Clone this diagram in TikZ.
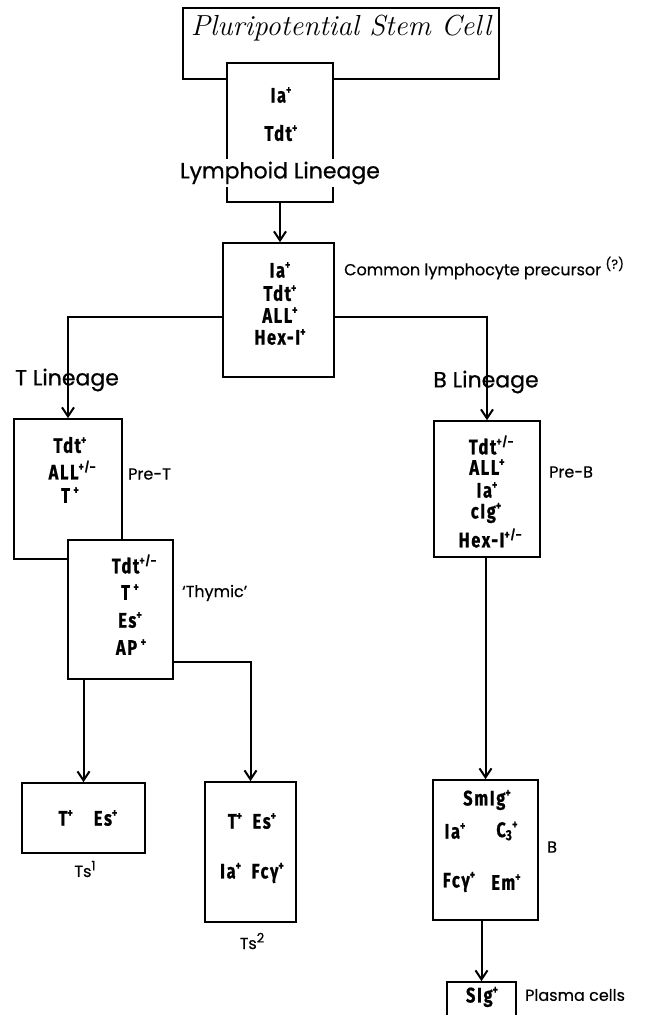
\documentclass[tikz,border=0pt]{standalone}
\usepackage{fontspec}
\usetikzlibrary{arrows.meta,positioning}
\newfontfamily\markfont[FakeStretch=0.78,LetterSpace=8,FakeBold=0.8]{Fira Sans}
\newfontfamily\labelfont[FakeBold=0.4]{Poppins}
\newfontfamily\biglabelfont[FakeBold=0.7]{Poppins}
\newcommand{\mrk}{\markfont\bfseries\fontsize{21}{24}\selectfont}
\newcommand{\sg}[1]{\raisebox{0.75ex}{\fontsize{13}{13}\selectfont #1}}

\begin{document}
\begin{tikzpicture}[x=1pt,y=-1pt,>={Straight Barb[length=9pt,width=12pt]}]
\tikzstyle{box}=[draw,line width=1.7pt,fill=white,inner sep=0pt]
\tikzstyle{conn}=[draw,->,line width=2pt]
\tikzstyle{m}=[font=\mrk,inner sep=1pt]
\tikzstyle{lab}=[font=\labelfont\fontsize{16}{19}\selectfont,anchor=west,inner sep=1pt]
\tikzstyle{big}=[font=\biglabelfont\fontsize{22}{25}\selectfont,inner sep=1pt]
\useasboundingbox (0,0) rectangle (652,1015);
% stem cell and lymphoid lineage
\node[box,minimum width=316pt,minimum height=71pt] (stem) at (341,43.5) {};
\node[font=\itshape\fontsize{29}{32}\selectfont,inner sep=0pt] (stemtxt) at (341,28) {Pluripotential Stem Cell};
\node[box,minimum width=106pt,minimum height=139pt] (lymph) at (280,132.5) {};
\node[m] (lyIa) at (281,95) {Ia\sg{+}};
\node[m] (lyTdt) at (281,133) {Tdt\sg{+}};
\node[big,fill=white,inner sep=3pt] (lylab) at (280,173) {Lymphoid Lineage};
% common precursor
\node[box,minimum width=111pt,minimum height=134pt] (common) at (278.5,310) {};
\node[m] (coIa) at (280,270) {Ia\sg{+}};
\node[m] (coTdt) at (280,293) {Tdt\sg{+}};
\node[m] (coALL) at (280,315) {ALL\sg{+}};
\node[m] (coHex) at (280,337) {Hex-I\sg{+}};
\node[lab] (colab) at (343,268) {Common lymphocyte precursor \sg{(?)}};
\path[conn] (lymph.south) -- (lymph.south |- common.north);
% T lineage
\node[box,minimum width=108pt,minimum height=140pt] (pret) at (68,489) {};
\node[m] (ptTdt) at (70,445) {Tdt\sg{+}};
\node[m] (ptALL) at (72,470) {ALL\sg{+/–}};
\node[m] (ptT) at (70,495) {T\,\sg{+}};
\node[lab] (ptlab) at (127,474) {Pre-T};
\node[box,minimum width=105pt,minimum height=139pt] (thym) at (120.5,609.5) {};
\node[m] (thTdt) at (134,564) {Tdt\sg{+/–}};
\node[m] (thT) at (130,592) {T\,\sg{+}};
\node[m] (thEs) at (130,620) {Es\sg{+}};
\node[m] (thAP) at (131,647) {AP\,\sg{+}};
\node[lab] (thlab) at (181,593) {‘Thymic’};
\node[big] (tlab) at (67,380) {T Lineage};
\path[conn] ([yshift=-7pt]common.west) -| (pret.north);
\node[box,minimum width=123pt,minimum height=70pt] (tsa) at (83.5,818) {};
\node[m] (tsatxt) at (88,818) {T\sg{+}\quad Es\sg{+}};
\node[lab,anchor=center] (tsalab) at (85,869) {Ts\sg{1}};
\node[box,minimum width=91pt,minimum height=140pt] (tsb) at (250.5,852) {};
\node[m] (tsbtxt) at (252,821) {T\sg{+}\enspace Es\sg{+}};
\node[m] (tsbtxt2) at (252,873) {Ia\sg{+}\enspace Fcγ\sg{+}};
\node[lab,anchor=center] (tsblab) at (252,941) {Ts\sg{2}};
\path[conn] (tsa.north |- thym.south) -- (tsa.north);
\path[conn] ([yshift=-52.5pt]thym.east) -| (tsb.north);
% B lineage
\node[big] (blab) at (486,382) {B Lineage};
\node[box,minimum width=106pt,minimum height=136pt] (preb) at (487,489) {};
\node[m] (pbTdt) at (491,445) {Tdt\sg{+/–}};
\node[m] (pbALL) at (487,467) {ALL\sg{+}};
\node[m] (pbIa) at (487,490) {Ia\sg{+}};
\node[m] (pbcIg) at (486,513) {cIg\sg{+}};
\node[m] (pbHex) at (490,538) {Hex-I\sg{+/–}};
\node[lab] (pblab) at (548,472) {Pre-B};
\path[conn] ([yshift=-7pt]common.east) -| (preb.north);
\node[box,minimum width=105pt,minimum height=140pt] (bcell) at (485.5,850) {};
\node[m] (bSm) at (487,800) {SmIg\sg{+}};
\node[m] (bIa) at (455,831) {Ia\sg{+}};
\node[m] (bC) at (507,831) {C\textsubscript{3}\sg{+}};
\node[m] (bFc) at (459,882) {Fcγ\sg{+}};
\node[m] (bEm) at (506,882) {Em\sg{+}};
\node[lab] (bclab) at (546,847) {B};
\path[conn] (bcell.north |- preb.south) -- (bcell.north);
\node[box,minimum width=69pt,minimum height=40pt] (plasma) at (481.5,1002) {};
\node[m] (plSIg) at (482,997) {SIg\sg{+}};
\node[lab] (pllab) at (524,995) {Plasma cells};
\path[conn] (plasma.north |- bcell.south) -- (plasma.north);
\end{tikzpicture}
\end{document}
